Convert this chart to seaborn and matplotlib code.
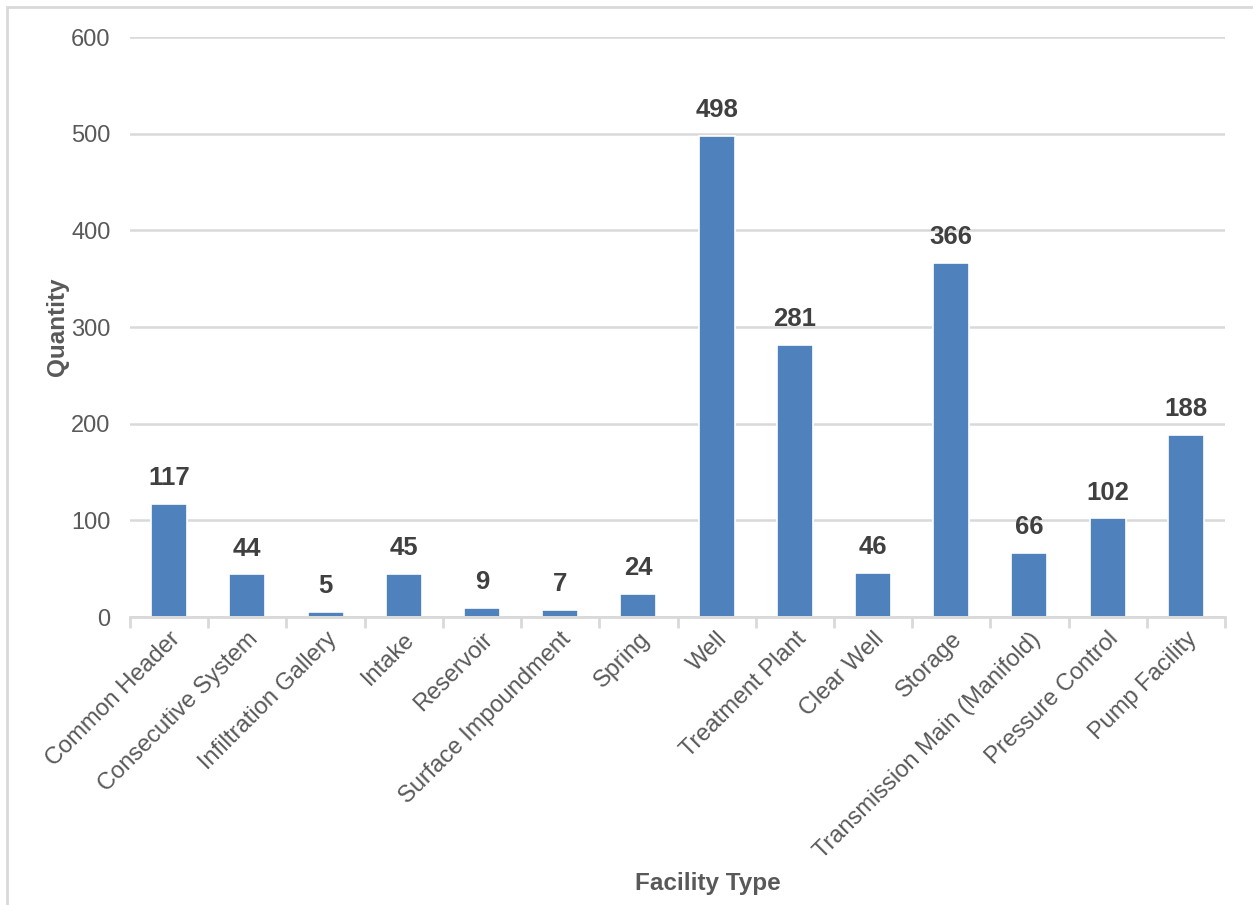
import matplotlib
matplotlib.use("Agg")
import matplotlib.pyplot as plt
import seaborn as sns
import pandas as pd
from matplotlib.patches import Rectangle

# data
facility_types = [
    "Common Header", "Consecutive System", "Infiltration Gallery", "Intake",
    "Reservoir", "Surface Impoundment", "Spring", "Well", "Treatment Plant",
    "Clear Well", "Storage", "Transmission Main (Manifold)", "Pressure Control",
    "Pump Facility",
]
quantities = [117, 44, 5, 45, 9, 7, 24, 498, 281, 46, 366, 66, 102, 188]
y_ticks = [0, 100, 200, 300, 400, 500, 600]

df = pd.DataFrame({"Facility Type": facility_types, "Quantity": quantities})

sns.set_theme(style="white")
plt.rcParams['font.family'] = ['Liberation Sans', 'DejaVu Sans']

grid_col = "#d9d9d9"
text_col = "#595959"

fig = plt.figure(figsize=(12.53, 9.05), dpi=100)
ax = fig.add_axes([130 / 1253, 1 - 617 / 905, 1095 / 1253, 580 / 905])

sns.barplot(data=df, x="Facility Type", y="Quantity", color="#4f81bd",
            saturation=1, width=0.46, edgecolor="white", linewidth=1.2, ax=ax)

ax.set_ylim(0, 600)
ax.set_xlim(-0.5, len(facility_types) - 0.5)
ax.set_yticks(y_ticks)
ax.yaxis.grid(True, color=grid_col, linewidth=1.8)
ax.set_axisbelow(True)
for side in ["top", "right", "left"]:
    ax.spines[side].set_visible(False)
ax.spines["bottom"].set_color(grid_col)
ax.spines["bottom"].set_linewidth(2)

# tick marks between categories, labels at bar centers
ax.set_xticks(range(len(facility_types)))
ax.set_xticklabels(facility_types, rotation=45, ha="right",
                   rotation_mode="anchor", fontsize=17, color=text_col)
ax.set_xticks([i - 0.5 for i in range(len(facility_types) + 1)], minor=True)
ax.tick_params(axis="x", which="major", length=0, pad=8)
ax.tick_params(axis="x", which="minor", length=8, width=2, color=grid_col,
               direction="out", bottom=True)
ax.tick_params(axis="y", length=0, pad=14, labelsize=17, labelcolor=text_col)

for container in ax.containers:
    ax.bar_label(container, labels=[str(v) for v in quantities], padding=10,
                 fontsize=18.5, fontweight="bold", color="#404040")

ax.set_xlabel("Facility Type", fontsize=17.5, fontweight="bold", color=text_col)
ax.xaxis.set_label_coords(0.528, -0.44)
ax.set_ylabel("Quantity", fontsize=17.5, fontweight="bold", color=text_col)
ax.yaxis.set_label_coords(-0.056, 0.5)

# light frame around the chart area (left and top edges visible)
fig.patches.append(Rectangle((7 / 1253, -0.5), 2, 1.5 - 7 / 905,
                             transform=fig.transFigure, fill=False,
                             edgecolor=grid_col, linewidth=2))

fig.savefig("out.png", dpi=100)
